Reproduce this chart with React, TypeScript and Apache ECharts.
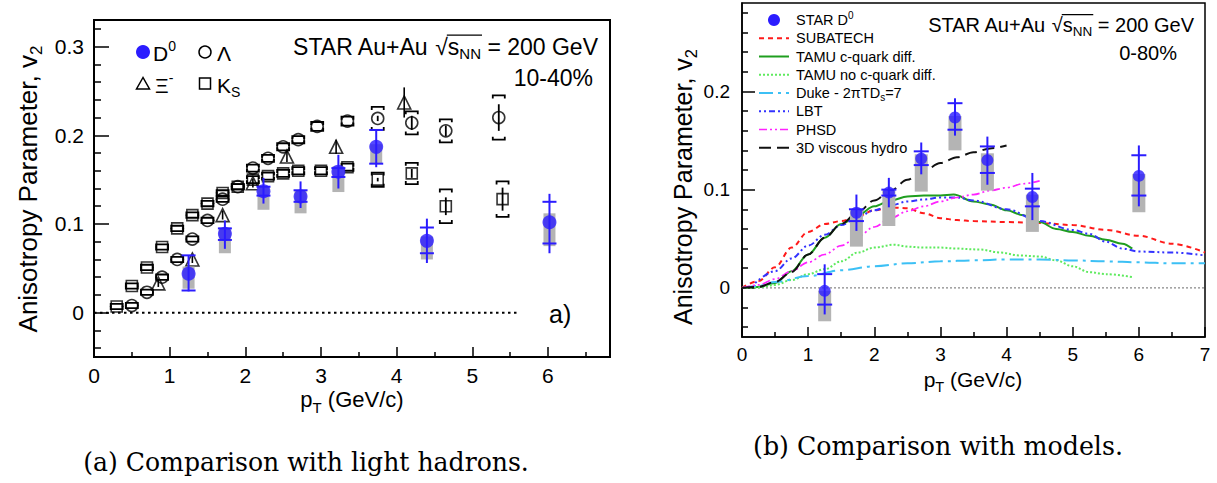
import React, { useEffect, useRef } from 'react';
import * as echarts from 'echarts';

const SANS = "'Liberation Sans', Arial, Helvetica, sans-serif";
const SERIF = "'DejaVu Serif', 'Liberation Serif', serif";
const BLUE = '#2b1cff';
const GREY = '#b4b4b4';

// ---------- Panel (a): D0 vs light hadrons, 10-40% ----------
const aD0Pt = [1.25, 1.73, 2.24, 2.73, 3.23, 3.73, 4.4, 6.02];
const aD0V2 = [0.044, 0.089, 0.137, 0.131, 0.159, 0.187, 0.081, 0.102];
const aD0StatLo = [0.024, 0.072, 0.123, 0.118, 0.14, 0.164, 0.056, 0.067];
const aD0StatHi = [0.065, 0.104, 0.152, 0.148, 0.178, 0.207, 0.106, 0.134];
const aD0CapLo = [0.025, 0.082, 0.132, 0.125, 0.153, 0.168, 0.067, 0.078];
const aD0CapHi = [0.0646, 0.095, 0.142, 0.138, 0.163, 0.206, 0.096, 0.125];
const aD0SysLo = [0.027, 0.067, 0.116, 0.112, 0.136, 0.168, 0.06, 0.075];
const aD0SysHi = [0.052, 0.096, 0.142, 0.138, 0.165, 0.19, 0.086, 0.112];

const ksPt = [0.3, 0.5, 0.7, 0.9, 1.1, 1.3, 1.5, 1.7, 1.9, 2.1, 2.3, 2.5, 2.7, 3.0, 3.35, 3.75, 4.2, 4.65, 5.4];
const ksV2 = [0.007, 0.03, 0.051, 0.074, 0.095, 0.11, 0.123, 0.135, 0.142, 0.15, 0.154, 0.157, 0.16, 0.16, 0.164, 0.15, 0.157, 0.12, 0.128];
const ksStat = [0, 0, 0, 0, 0, 0, 0, 0, 0, 0, 0, 0, 0, 0, 0, 0.002, 0.005, 0.01, 0.013];
const ksSys = [0.003, 0.003, 0.003, 0.003, 0.003, 0.003, 0.003, 0.003, 0.003, 0.004, 0.004, 0.004, 0.004, 0.004, 0.004, 0.008, 0.012, 0.019, 0.02];

const laPt = [0.5, 0.7, 0.9, 1.1, 1.3, 1.5, 1.7, 1.9, 2.1, 2.3, 2.5, 2.7, 2.95, 3.35, 3.75, 4.2, 4.65, 5.35];
const laV2 = [0.008, 0.023, 0.04, 0.06, 0.083, 0.104, 0.128, 0.142, 0.163, 0.174, 0.187, 0.195, 0.21, 0.216, 0.219, 0.214, 0.205, 0.22];
const laStat = [0, 0, 0, 0, 0, 0, 0, 0, 0, 0, 0, 0, 0, 0, 0.003, 0.008, 0.006, 0.015];
const laSys = [0.003, 0.003, 0.003, 0.003, 0.003, 0.003, 0.003, 0.003, 0.004, 0.004, 0.004, 0.004, 0.005, 0.005, 0.013, 0.013, 0.013, 0.025];

const xiPt = [0.85, 1.3, 1.7, 2.1, 2.55, 3.2, 4.1];
const xiV2 = [0.033, 0.06, 0.11, 0.146, 0.176, 0.187, 0.237];
const xiStat = [0.004, 0.004, 0.005, 0.005, 0.006, 0.008, 0.017];

const aZeroLine = [0, 5.6];

// ---------- Panel (b): D0 vs models, 0-80% ----------
const bD0Pt = [1.25, 1.73, 2.22, 2.71, 3.22, 3.71, 4.39, 6.0];
const bD0V2 = [-0.003, 0.0765, 0.097, 0.1316, 0.1735, 0.13, 0.0925, 0.114];
const bD0StatLo = [-0.027, 0.058, 0.082, 0.1156, 0.155, 0.105, 0.069, 0.083];
const bD0StatHi = [0.024, 0.095, 0.112, 0.148, 0.193, 0.154, 0.117, 0.145];
const bD0CapLo = [-0.017, 0.068, 0.094, 0.125, 0.161, 0.117, 0.083, 0.094];
const bD0CapHi = [0.014, 0.08, 0.1, 0.139, 0.188, 0.144, 0.101, 0.135];
const bD0SysLo = [-0.034, 0.042, 0.063, 0.098, 0.14, 0.099, 0.057, 0.077];
const bD0SysHi = [-0.003, 0.079, 0.099, 0.136, 0.175, 0.137, 0.095, 0.116];

const subatechPt = [0, 0.25, 0.5, 0.75, 1.0, 1.25, 1.5, 1.75, 2.0, 2.25, 2.5, 2.75, 3.0, 3.25, 3.5, 4.0, 4.5, 5.0, 5.5, 6.0, 6.5, 7.0];
const subatechV2 = [0, 0.007, 0.021, 0.041, 0.057, 0.065, 0.068, 0.073, 0.079, 0.082, 0.081, 0.076, 0.071, 0.069, 0.068, 0.067, 0.066, 0.064, 0.059, 0.053, 0.045, 0.036];

const tamuPt = [0, 0.25, 0.5, 0.75, 1.0, 1.25, 1.5, 1.75, 2.0, 2.25, 2.5, 2.75, 3.0, 3.2, 3.5, 3.75, 4.0, 4.25, 4.5, 4.75, 5.0, 5.25, 5.5, 5.75, 5.9];
const tamuV2 = [0, 0.001, 0.005, 0.017, 0.034, 0.051, 0.065, 0.074, 0.083, 0.089, 0.093, 0.094, 0.094, 0.095, 0.088, 0.085, 0.079, 0.074, 0.067, 0.06, 0.057, 0.053, 0.049, 0.045, 0.04];

const tamuNoPt = [0, 0.25, 0.5, 0.75, 1.0, 1.25, 1.5, 1.75, 2.0, 2.3, 2.5, 2.75, 3.0, 3.25, 3.6, 3.9, 4.2, 4.5, 4.75, 5.0, 5.25, 5.5, 5.9];
const tamuNoV2 = [0, 0.0005, 0.003, 0.008, 0.014, 0.019, 0.027, 0.036, 0.041, 0.044, 0.042, 0.041, 0.041, 0.04, 0.039, 0.036, 0.033, 0.032, 0.028, 0.022, 0.016, 0.014, 0.011];

const dukePt = [0, 0.25, 0.5, 1.0, 1.5, 2.0, 2.5, 3.0, 3.5, 4.0, 4.5, 5.0, 5.5, 6.0, 6.5, 7.0];
const dukeV2 = [0, 0.002, 0.006, 0.012, 0.018, 0.022, 0.025, 0.027, 0.028, 0.029, 0.029, 0.028, 0.027, 0.026, 0.025, 0.025];

const lbtPt = [0.2, 0.5, 0.75, 1.0, 1.25, 1.5, 1.75, 2.0, 2.25, 2.5, 2.75, 3.0, 3.25, 3.5, 4.0, 4.5, 5.0, 5.25, 5.5, 5.75, 6.0, 6.5, 7.0];
const lbtV2 = [0.005, 0.017, 0.03, 0.043, 0.054, 0.064, 0.072, 0.079, 0.084, 0.088, 0.09, 0.092, 0.092, 0.089, 0.08, 0.068, 0.059, 0.055, 0.047, 0.04, 0.037, 0.036, 0.033];

const phsdPt = [0, 0.25, 0.5, 0.75, 1.0, 1.25, 1.5, 1.75, 2.0, 2.25, 2.5, 2.75, 3.0, 3.25, 3.5, 3.75, 4.0, 4.25, 4.5];
const phsdV2 = [0, 0.003, 0.009, 0.017, 0.026, 0.034, 0.043, 0.052, 0.062, 0.071, 0.078, 0.083, 0.088, 0.092, 0.095, 0.099, 0.102, 0.106, 0.109];

const hydroPt = [0, 0.25, 0.5, 0.75, 1.0, 1.25, 1.5, 1.75, 2.0, 2.25, 2.5, 2.75, 3.0, 3.25, 3.5, 3.75, 4.0];
const hydroV2 = [0, 0.001, 0.006, 0.016, 0.034, 0.051, 0.065, 0.077, 0.089, 0.099, 0.11, 0.119, 0.127, 0.133, 0.138, 0.142, 0.145];

const bZeroLine = [0, 7];

// tick values
const aXMajor = [0, 1, 2, 3, 4, 5, 6];
const aXMinor = [0.5, 1.5, 2.5, 3.5, 4.5, 5.5, 6.5];
const aYMajor = [0, 0.1, 0.2, 0.3];
const aYMinor = [-0.04, -0.02, 0.02, 0.04, 0.06, 0.08, 0.12, 0.14, 0.16, 0.18, 0.22, 0.24, 0.26, 0.28, 0.32];
const bXMajor = [0, 1, 2, 3, 4, 5, 6, 7];
const bXMinor = [0.5, 1.5, 2.5, 3.5, 4.5, 5.5, 6.5];
const bYMajor = [0, 0.1, 0.2];
const bYMinor = [-0.04, -0.02, 0.02, 0.04, 0.06, 0.08, 0.12, 0.14, 0.16, 0.18, 0.22, 0.24, 0.26, 0.28];

const zip = (...cols: number[][]) => cols[0].map((_, i) => cols.map((c) => c[i]));

type Piece = { t: string; s: number; dy?: number };

export default function App() {
  const ref = useRef<HTMLDivElement>(null);

  useEffect(() => {
    const canvas = document.createElement('canvas');
    const ctx = canvas.getContext('2d')!;
    const measure = (t: string, s: number, fam: string) => {
      ctx.font = `${s}px ${fam}`;
      return ctx.measureText(t).width;
    };
    const compose = (pieces: Piece[], x: number, y: number, align: 'left' | 'right' | 'center', fam = SANS, fill = '#000') => {
      const ws = pieces.map((p) => measure(p.t, p.s, fam));
      const total = ws.reduce((a, b) => a + b, 0);
      let cx = align === 'left' ? x : align === 'right' ? x - total : x - total / 2;
      const starts: number[] = [];
      const els = pieces.map((p, i) => {
        starts.push(cx);
        const el = {
          type: 'text',
          x: cx,
          y: y + (p.dy || 0),
          silent: true,
          style: { text: p.t, fontSize: p.s, fontFamily: fam, fill, textAlign: 'left', textVerticalAlign: 'middle', align: 'left', verticalAlign: 'middle' },
        };
        cx += ws[i];
        return el;
      });
      return { els, starts, widths: ws };
    };

    const graphics: any[] = [];

    // header (a)
    {
      const s = 23;
      const h = compose(
        [{ t: 'STAR Au+Au ', s }, { t: '√', s }, { t: 's', s }, { t: 'NN', s: 15, dy: 0.3 * s }, { t: ' = 200 GeV', s }],
        598, 47, 'right'
      );
      graphics.push(...h.els);
      const x1 = h.starts[1] + h.widths[1] - 1;
      const x2 = h.starts[3] + h.widths[3] + 1;
      graphics.push({ type: 'line', silent: true, shape: { x1, y1: 47 - 0.52 * s, x2, y2: 47 - 0.52 * s }, style: { stroke: '#000', lineWidth: 1.3 } });
      graphics.push(...compose([{ t: '10-40%', s }], 593, 78, 'right').els);
      graphics.push(...compose([{ t: 'a)', s: 25 }], 549, 314, 'left').els);
    }
    // legend (a)
    graphics.push({ type: 'circle', silent: true, shape: { cx: 143, cy: 52, r: 7 }, style: { fill: BLUE } });
    graphics.push(...compose([{ t: 'D', s: 21 }, { t: '0', s: 14, dy: -7 }], 153, 53, 'left').els);
    graphics.push({ type: 'circle', silent: true, shape: { cx: 205, cy: 52, r: 6 }, style: { fill: 'none', stroke: '#000', lineWidth: 1.5 } });
    graphics.push(...compose([{ t: 'Λ', s: 21 }], 217, 53, 'left').els);
    graphics.push({ type: 'polygon', silent: true, shape: { points: [[143, 77.5], [136.5, 89], [149.5, 89]] }, style: { fill: 'none', stroke: '#000', lineWidth: 1.5 } });
    graphics.push(...compose([{ t: 'Ξ', s: 21 }, { t: '-', s: 14, dy: -7 }], 155, 85, 'left').els);
    graphics.push({ type: 'rect', silent: true, shape: { x: 199.5, y: 78, width: 11, height: 11 }, style: { fill: 'none', stroke: '#000', lineWidth: 1.5 } });
    graphics.push(...compose([{ t: 'K', s: 21 }, { t: 'S', s: 14, dy: 7 }], 217, 85, 'left').els);

    // header (b)
    {
      const s = 20;
      const h = compose(
        [{ t: 'STAR Au+Au ', s }, { t: '√', s }, { t: 's', s }, { t: 'NN', s: 13.5, dy: 0.3 * s }, { t: ' = 200 GeV', s }],
        1194, 25, 'right'
      );
      graphics.push(...h.els);
      const x1 = h.starts[1] + h.widths[1] - 1;
      const x2 = h.starts[3] + h.widths[3] + 1;
      graphics.push({ type: 'line', silent: true, shape: { x1, y1: 25 - 0.52 * s, x2, y2: 25 - 0.52 * s }, style: { stroke: '#000', lineWidth: 1.2 } });
      graphics.push(...compose([{ t: '0-80%', s }], 1177, 53, 'right').els);
    }

    // model styles (b)
    const models = [
      { name: 'SUBATECH', pt: subatechPt, v2: subatechV2, color: '#ff1a1a', dash: [5, 4], w: 2 },
      { name: 'TAMU c-quark diff.', pt: tamuPt, v2: tamuV2, color: '#1f9e1f', dash: 'solid', w: 2 },
      { name: 'TAMU no c-quark diff.', pt: tamuNoPt, v2: tamuNoV2, color: '#5eea5e', dash: [2, 2], w: 2 },
      { name: 'Duke', pt: dukePt, v2: dukeV2, color: '#3cc0f5', dash: [14, 5, 3, 5], w: 2 },
      { name: 'LBT', pt: lbtPt, v2: lbtV2, color: '#3333ff', dash: [2, 3, 2, 3, 6, 3], w: 2 },
      { name: 'PHSD', pt: phsdPt, v2: phsdV2, color: '#ff22ff', dash: [8, 3, 2, 3, 2, 3], w: 1.7 },
      { name: '3D viscous hydro', pt: hydroPt, v2: hydroV2, color: '#111111', dash: [12, 6], w: 2 },
    ];

    // legend (b)
    const ls = 14.5;
    const rowY = (i: number) => 20 + i * 18.25;
    graphics.push({ type: 'circle', silent: true, shape: { cx: 774, cy: rowY(0), r: 6 }, style: { fill: BLUE } });
    graphics.push(...compose([{ t: 'STAR D', s: ls }, { t: '0', s: 10, dy: -5 }], 796, rowY(0), 'left').els);
    const legLabels: Piece[][] = [
      [{ t: 'SUBATECH', s: ls }],
      [{ t: 'TAMU c-quark diff.', s: ls }],
      [{ t: 'TAMU no c-quark diff.', s: ls }],
      [{ t: 'Duke - 2πTD', s: ls }, { t: 's', s: 10, dy: 4 }, { t: '=7', s: ls }],
      [{ t: 'LBT', s: ls }],
      [{ t: 'PHSD', s: ls }],
      [{ t: '3D viscous hydro', s: ls }],
    ];
    models.forEach((m, i) => {
      const y = rowY(i + 1);
      graphics.push({
        type: 'line', silent: true,
        shape: { x1: 759, y1: y, x2: 789, y2: y },
        style: { stroke: m.color, lineWidth: m.w, lineDash: m.dash === 'solid' ? null : m.dash },
      });
      graphics.push(...compose(legLabels[i], 796, y, 'left').els);
    });

    // axis titles
    const yTitleA = compose([{ t: 'Anisotropy Parameter, v', s: 26 }, { t: '2', s: 17, dy: 8 }], 0, 0, 'center');
    graphics.push({ type: 'group', x: 28, y: 189, rotation: Math.PI / 2, children: yTitleA.els });
    const yTitleB = compose([{ t: 'Anisotropy Parameter, v', s: 25 }, { t: '2', s: 16.5, dy: 8 }], 0, 0, 'center');
    graphics.push({ type: 'group', x: 683, y: 187, rotation: Math.PI / 2, children: yTitleB.els });
    graphics.push(...compose([{ t: 'p', s: 22 }, { t: 'T', s: 15, dy: 8 }, { t: ' (GeV/c)', s: 22 }], 352, 399, 'center').els);
    graphics.push(...compose([{ t: 'p', s: 21 }, { t: 'T', s: 14.5, dy: 8 }, { t: ' (GeV/c)', s: 21 }], 973, 379, 'center').els);

    // captions
    const capA = '(a) Comparison with light hadrons.';
    const capB = '(b) Comparison with models.';
    const sA = (24 * 446) / measure(capA, 24, SERIF);
    const sB = (24 * 370) / measure(capB, 24, SERIF);
    graphics.push(...compose([{ t: capA, s: sA }], 306, 462, 'center', SERIF).els);
    graphics.push(...compose([{ t: capB, s: sB }], 938, 446, 'center', SERIF).els);

    // render helpers
    const renderD0 = (bw: number, cw: number) => (params: any, api: any) => {
      const x = api.value(0);
      const c = api.coord([x, api.value(1)]);
      const sLo = api.coord([x, api.value(2)])[1];
      const sHi = api.coord([x, api.value(3)])[1];
      const cLo = api.coord([x, api.value(4)])[1];
      const cHi = api.coord([x, api.value(5)])[1];
      const yLo = api.coord([x, api.value(6)])[1];
      const yHi = api.coord([x, api.value(7)])[1];
      const ln = (x1: number, y1: number, x2: number, y2: number) => ({
        type: 'line', shape: { x1, y1, x2, y2 }, style: { stroke: BLUE, lineWidth: 2 },
      });
      return {
        type: 'group',
        children: [
          { type: 'rect', shape: { x: c[0] - bw / 2, y: yHi, width: bw, height: yLo - yHi }, style: { fill: GREY } },
          ln(c[0], sHi, c[0], sLo),
          ln(c[0] - cw / 2, cHi, c[0] + cw / 2, cHi),
          ln(c[0] - cw / 2, cLo, c[0] + cw / 2, cLo),
        ],
      };
    };
    const renderBrackets = (params: any, api: any) => {
      const x = api.value(0);
      const v = api.value(1);
      const st = api.value(2);
      const sy = api.value(3);
      const c = api.coord([x, v]);
      const hi = api.coord([x, v + sy])[1];
      const lo = api.coord([x, v - sy])[1];
      const children: any[] = [];
      if (st > 0) {
        const a = api.coord([x, v + st])[1];
        const b = api.coord([x, v - st])[1];
        children.push({ type: 'line', shape: { x1: c[0], y1: a, x2: c[0], y2: b }, style: { stroke: '#000', lineWidth: 1.8 } });
      }
      if (sy > 0) {
        const w = 6;
        children.push({ type: 'polyline', shape: { points: [[c[0] - w, hi + 3], [c[0] - w, hi], [c[0] + w, hi], [c[0] + w, hi + 3]] }, style: { stroke: '#000', lineWidth: 1.8, fill: 'none' } });
        children.push({ type: 'polyline', shape: { points: [[c[0] - w, lo - 3], [c[0] - w, lo], [c[0] + w, lo], [c[0] + w, lo - 3]] }, style: { stroke: '#000', lineWidth: 1.8, fill: 'none' } });
      }
      return { type: 'group', children };
    };
    const renderStat = (params: any, api: any) => {
      const x = api.value(0);
      const v = api.value(1);
      const st = api.value(2);
      const c = api.coord([x, v]);
      const a = api.coord([x, v + st])[1];
      const b = api.coord([x, v - st])[1];
      return { type: 'line', shape: { x1: c[0], y1: a, x2: c[0], y2: b }, style: { stroke: '#000', lineWidth: 1.6 } };
    };

    const tickStyle = (w: number) => ({ color: '#000', width: w });
    const mkX = (grid: number, min: number, max: number, vals: number[], len: number, labels: boolean, fs: number, lw: number) => ({
      type: 'value', gridIndex: grid, min, max, position: 'bottom',
      axisLine: { show: labels, onZero: false, lineStyle: tickStyle(lw) },
      axisTick: { show: true, inside: true, length: len, customValues: vals, lineStyle: tickStyle(1.5) },
      axisLabel: { show: labels, customValues: vals, margin: 8, fontSize: fs, color: '#000', fontFamily: SANS },
      splitLine: { show: false },
    });
    const mkY = (grid: number, min: number, max: number, vals: number[], len: number, labels: boolean, fs: number, lw: number, margin: number) => ({
      type: 'value', gridIndex: grid, min, max, position: 'left',
      axisLine: { show: labels, onZero: false, lineStyle: tickStyle(lw) },
      axisTick: { show: true, inside: true, length: len, customValues: vals, lineStyle: tickStyle(1.5) },
      axisLabel: { show: labels, customValues: vals, margin, fontSize: fs, color: '#000', fontFamily: SANS },
      splitLine: { show: false },
    });

    const hollow = { color: 'rgba(255,255,255,0)', borderColor: '#000', borderWidth: 1.6 };

    const series: any[] = [
      // ---- panel (a)
      {
        type: 'line', xAxisIndex: 0, yAxisIndex: 0, symbol: 'none', silent: true,
        data: aZeroLine.map((x) => [x, 0]),
        lineStyle: { color: '#000', width: 2, type: [2.5, 3.5] },
      },
      { type: 'custom', xAxisIndex: 0, yAxisIndex: 0, renderItem: renderBrackets, data: zip(ksPt, ksV2, ksStat, ksSys), silent: true, z: 3 },
      { type: 'custom', xAxisIndex: 0, yAxisIndex: 0, renderItem: renderBrackets, data: zip(laPt, laV2, laStat, laSys), silent: true, z: 3 },
      { type: 'custom', xAxisIndex: 0, yAxisIndex: 0, renderItem: renderStat, data: zip(xiPt, xiV2, xiStat), silent: true, z: 3 },
      {
        type: 'scatter', name: 'K_S', xAxisIndex: 0, yAxisIndex: 0, symbol: 'rect', symbolSize: 11, silent: true, z: 4,
        data: zip(ksPt, ksV2), itemStyle: hollow,
      },
      {
        type: 'scatter', name: 'Λ', xAxisIndex: 0, yAxisIndex: 0, symbol: 'circle', symbolSize: 12, silent: true, z: 4,
        data: zip(laPt, laV2), itemStyle: hollow,
      },
      {
        type: 'scatter', name: 'Ξ-', xAxisIndex: 0, yAxisIndex: 0, symbol: 'triangle', symbolSize: 13, silent: true, z: 4,
        data: zip(xiPt, xiV2), itemStyle: hollow,
      },
      {
        type: 'custom', xAxisIndex: 0, yAxisIndex: 0, renderItem: renderD0(12, 14), silent: true, z: 5,
        data: zip(aD0Pt, aD0V2, aD0StatLo, aD0StatHi, aD0CapLo, aD0CapHi, aD0SysLo, aD0SysHi),
      },
      {
        type: 'scatter', name: 'D0', xAxisIndex: 0, yAxisIndex: 0, symbol: 'circle', symbolSize: 14, silent: true, z: 6,
        data: zip(aD0Pt, aD0V2), itemStyle: { color: BLUE },
      },
      // ---- panel (b)
      {
        type: 'line', xAxisIndex: 2, yAxisIndex: 2, symbol: 'none', silent: true,
        data: bZeroLine.map((x) => [x, 0]),
        lineStyle: { color: '#888', width: 1.2, type: [2, 2] },
      },
      ...models.map((m) => ({
        type: 'line', name: m.name, xAxisIndex: 2, yAxisIndex: 2, symbol: 'none', silent: true, smooth: 0.35, smoothMonotone: 'x',
        data: zip(m.pt, m.v2), z: 3,
        lineStyle: { color: m.color, width: m.w, type: m.dash },
      })),
      {
        type: 'custom', xAxisIndex: 2, yAxisIndex: 2, renderItem: renderD0(13, 15), silent: true, z: 5,
        data: zip(bD0Pt, bD0V2, bD0StatLo, bD0StatHi, bD0CapLo, bD0CapHi, bD0SysLo, bD0SysHi),
      },
      {
        type: 'scatter', name: 'STAR D0', xAxisIndex: 2, yAxisIndex: 2, symbol: 'circle', symbolSize: 12, silent: true, z: 6,
        data: zip(bD0Pt, bD0V2), itemStyle: { color: BLUE },
      },
    ];

    const option: any = {
      animation: false,
      backgroundColor: '#fff',
      grid: [
        { left: 94, top: 20, width: 516, height: 337, show: true, borderColor: '#000', borderWidth: 2, backgroundColor: 'rgba(0,0,0,0)' },
        { left: 742, top: 3, width: 463, height: 334, show: true, borderColor: '#000', borderWidth: 1.5, backgroundColor: 'rgba(0,0,0,0)' },
      ],
      xAxis: [
        mkX(0, 0, 6.82, aXMajor, 10, true, 21, 2),
        mkX(0, 0, 6.82, aXMinor, 5, false, 21, 2),
        mkX(1, 0, 7, bXMajor, 10, true, 19, 1.5),
        mkX(1, 0, 7, bXMinor, 5, false, 19, 1.5),
      ],
      yAxis: [
        mkY(0, -0.05, 0.33, aYMajor, 15, true, 21, 2, 10),
        mkY(0, -0.05, 0.33, aYMinor, 7, false, 21, 2, 10),
        mkY(1, -0.05, 0.29, bYMajor, 13, true, 19, 1.5, 12),
        mkY(1, -0.05, 0.29, bYMinor, 6, false, 19, 1.5, 12),
      ],
      series,
      graphic: { elements: graphics },
    };

    const chart = echarts.init(ref.current!, null, { renderer: 'svg' });
    chart.setOption(option);
    return () => chart.dispose();
  }, []);

  return <div ref={ref} style={{ position: 'absolute', left: 0, top: 0, width: 1217, height: 483 }} />;
}
